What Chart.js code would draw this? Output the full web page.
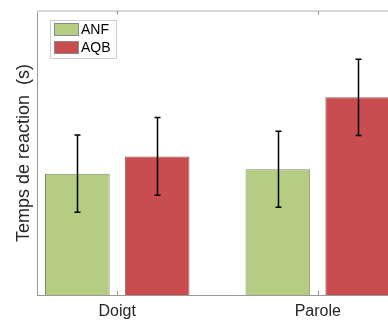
<!DOCTYPE html>
<html>
<head>
<meta charset="utf-8">
<script src="https://cdn.jsdelivr.net/npm/chart.js@4"></script>
<style>
  html, body { margin: 0; padding: 0; background: #fff; overflow: hidden; }
  #wrap { width: 398px; height: 320px; }
</style>
</head>
<body>
<div id="wrap"><canvas id="myChart"></canvas></div>
<script>
// data
const categories = ["Doigt", "Parole"];
const seriesNames = ["ANF", "AQB"];
const anfMeans = [0.427, 0.443];
const aqbMeans = [0.488, 0.696];
const anfErrors = [0.136, 0.134];
const aqbErrors = [0.137, 0.134];

const greenFill = "#b5cd82";
const redFill = "#c94c4e";

const catPos = categories.map((c, i) => i + 1);

// error bars, axis frame, inward ticks and the legend box
const extrasPlugin = {
  id: "extras",
  afterDatasetsDraw(chart) {
    const ctx = chart.ctx;
    const yScale = chart.scales.y;
    const errs = [anfErrors, aqbErrors];
    ctx.save();
    ctx.strokeStyle = "#000";
    ctx.lineWidth = 1.5;
    chart.data.datasets.forEach((ds, d) => {
      const meta = chart.getDatasetMeta(d);
      meta.data.forEach((bar, i) => {
        const v = ds.data[i].y;
        const top = yScale.getPixelForValue(v + errs[d][i]);
        const bot = yScale.getPixelForValue(v - errs[d][i]);
        const x = Math.round(bar.x) + 0.5;
        ctx.beginPath();
        ctx.moveTo(x, top); ctx.lineTo(x, bot);
        ctx.moveTo(x - 3, top); ctx.lineTo(x + 3, top);
        ctx.moveTo(x - 3, bot); ctx.lineTo(x + 3, bot);
        ctx.stroke();
      });
    });
    ctx.restore();
  },
  afterDraw(chart) {
    const ctx = chart.ctx;
    const a = chart.chartArea;
    const xScale = chart.scales.x;
    ctx.save();
    // top frame line
    ctx.strokeStyle = "#d6d6d6";
    ctx.lineWidth = 2;
    ctx.beginPath();
    ctx.moveTo(a.left, a.top); ctx.lineTo(a.right, a.top);
    ctx.stroke();
    // tick marks pointing inward
    ctx.strokeStyle = "#999";
    ctx.lineWidth = 1;
    catPos.forEach((p) => {
      const x = Math.round(xScale.getPixelForValue(p)) + 0.5;
      ctx.beginPath();
      ctx.moveTo(x, a.bottom); ctx.lineTo(x, a.bottom - 4);
      ctx.moveTo(x, a.top); ctx.lineTo(x, a.top + 4);
      ctx.stroke();
    });
    // legend
    const lx = 50.5, ly = 20.5, lw = 66, lh = 38;
    ctx.fillStyle = "#fff";
    ctx.fillRect(lx, ly, lw, lh);
    ctx.strokeStyle = "#cfcfcf";
    ctx.strokeRect(lx, ly, lw, lh);
    ctx.font = "14px 'Liberation Sans', Arial, sans-serif";
    ctx.textBaseline = "middle";
    chart.data.datasets.forEach((ds, d) => {
      const sy = 23 + d * 18;
      ctx.fillStyle = ds.backgroundColor;
      ctx.fillRect(54, sy, 25, 13);
      ctx.strokeStyle = "#8a8a8a";
      ctx.strokeRect(54.5, sy + 0.5, 24, 12);
      ctx.fillStyle = "#000";
      ctx.fillText(ds.label, 81, sy + 7);
    });
    ctx.restore();
  }
};

new Chart("myChart", {
  type: "bar",
  data: {
    datasets: [
      {
        label: seriesNames[0],
        data: catPos.map((x, i) => ({ x: x, y: anfMeans[i] })),
        backgroundColor: greenFill,
        borderColor: "#7f8a6a",
        borderWidth: 1,
        categoryPercentage: 0.796,
        barPercentage: 0.81,
      },
      {
        label: seriesNames[1],
        data: catPos.map((x, i) => ({ x: x, y: aqbMeans[i] })),
        backgroundColor: redFill,
        borderColor: "#8a5a5a",
        borderWidth: 1,
        categoryPercentage: 0.796,
        barPercentage: 0.81,
      },
    ],
  },
  options: {
    responsive: true,
    maintainAspectRatio: false,
    animation: false,
    layout: { padding: { top: 11, right: 0, left: 0, bottom: 0 } },
    plugins: {
      legend: { display: false },
      tooltip: { enabled: false },
    },
    scales: {
      x: {
        type: "linear",
        offset: false,
        min: 0.6,
        max: 2.4,
        afterBuildTicks: (s) => { s.ticks = catPos.map((v) => ({ value: v })); },
        afterFit: (s) => { s.height = 25; },
        grid: { display: false, drawTicks: false },
        border: { display: true, color: "#999", width: 1 },
        ticks: {
          padding: 7,
          color: "#262626",
          font: { family: "'Liberation Sans', Arial, sans-serif", size: 16 },
          callback: (v) => categories[v - 1] || "",
        },
      },
      y: {
        min: 0,
        max: 1,
        afterFit: (s) => { s.width = 37; },
        grid: { display: false, drawTicks: false },
        border: { display: true, color: "#999", width: 1 },
        ticks: { display: false },
        title: {
          display: true,
          text: "Temps de reaction  (s)",
          color: "#262626",
          padding: { top: 13, bottom: 0 },
          font: { family: "'Liberation Sans', Arial, sans-serif", size: 18 },
        },
      },
    },
  },
  plugins: [extrasPlugin],
});
</script>
</body>
</html>
